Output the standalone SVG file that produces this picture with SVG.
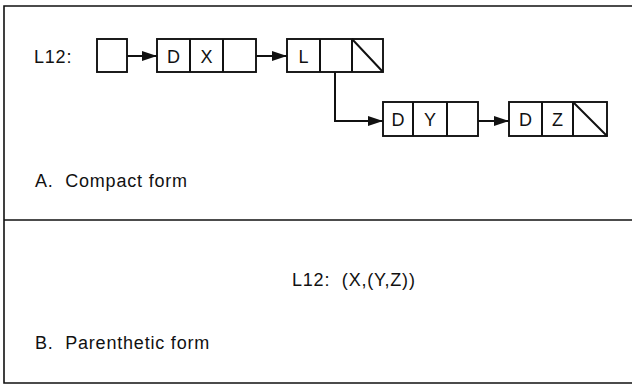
<svg xmlns="http://www.w3.org/2000/svg" width="632" height="385" viewBox="0 0 632 385">
<defs>
<style>
.frame{fill:none;stroke:#111;stroke-width:1.6}
.cell{fill:#fff;stroke:#111;stroke-width:1.9}
.line{fill:none;stroke:#111;stroke-width:2}
.t{font-family:"Liberation Sans",Arial,sans-serif;font-size:18px;letter-spacing:0.8px;fill:#111;white-space:pre}
.c{text-anchor:middle;letter-spacing:0}
</style>
<marker id="ah" viewBox="0 0 15 11" refX="15" refY="5.5" markerWidth="15" markerHeight="11" markerUnits="userSpaceOnUse" orient="auto">
<path d="M0,0.5 L15,5.5 L0,10.5 Z" fill="#111"/>
</marker>
</defs>
<rect width="632" height="385" fill="#fff"/>
<g id="frame">
<path class="frame" d="M640,6 H4 V383 H640"/>
<path class="frame" d="M4,220 H640"/>
</g>
<g id="labels">
<text class="t" x="34" y="63" xml:space="preserve">L12:</text>
<text class="t" x="35" y="187" xml:space="preserve">A.  Compact form</text>
<text class="t" x="292" y="286" xml:space="preserve">L12:  (X,(Y,Z))</text>
<text class="t" x="35" y="349" xml:space="preserve">B.  Parenthetic form</text>
</g>
<g id="node-head">
<rect class="cell" x="97" y="39" width="30" height="33"/>
</g>
<g id="node-dx">
<rect class="cell" x="157" y="39" width="99" height="33"/>
<path class="line" d="M190,39 V72 M223,39 V72"/>
<text class="t c" x="173.5" y="62.5">D</text>
<text class="t c" x="206.5" y="62.5">X</text>
</g>
<g id="node-l">
<rect class="cell" x="287" y="39" width="96" height="33"/>
<path class="line" d="M320,39 V72 M352,39 V72 M352,39 L383,72"/>
<text class="t c" x="303.5" y="62.5">L</text>
</g>
<g id="node-dy">
<rect class="cell" x="383" y="102" width="95" height="34"/>
<path class="line" d="M413,102 V136 M447,102 V136"/>
<text class="t c" x="398" y="125.5">D</text>
<text class="t c" x="430" y="125.5">Y</text>
</g>
<g id="node-dz">
<rect class="cell" x="509" y="102" width="98" height="34"/>
<path class="line" d="M542,102 V136 M573,102 V136 M573,102 L607,136"/>
<text class="t c" x="525.5" y="125.5">D</text>
<text class="t c" x="557.5" y="125.5">Z</text>
</g>
<g id="connectors">
<path class="line" d="M127,56 H157" marker-end="url(#ah)"/>
<path class="line" d="M256,56 H287" marker-end="url(#ah)"/>
<path class="line" d="M335,72 V121 H383" marker-end="url(#ah)"/>
<path class="line" d="M478,121 H509" marker-end="url(#ah)"/>
</g>
</svg>
